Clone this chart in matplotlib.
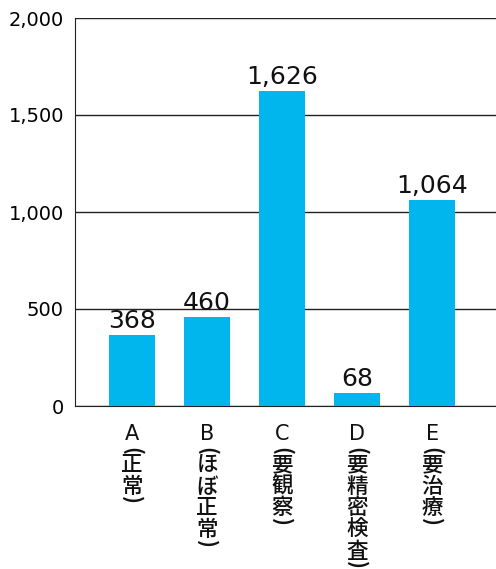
import matplotlib
matplotlib.use("Agg")
import matplotlib.pyplot as plt

plt.rcParams['font.family'] = ['DejaVu Sans', 'Noto Sans CJK JP']

letters = ['A', 'B', 'C', 'D', 'E']
names = ['正常', 'ほぼ正常', '要観察', '要精密検査', '要治療']
values = [368, 460, 1626, 68, 1064]
yticks = [0, 500, 1000, 1500, 2000]

PX = 0.72  # points per pixel at dpi 100

fig = plt.figure(figsize=(4.96, 5.69), dpi=100)
ax = fig.add_axes([75/496, 1 - 406/569, 421/496, 388/569])

x = list(range(len(values)))
ax.bar(x, values, width=0.61, color='#00b6ec', zorder=3)
for xi, v in zip(x, values):
    ax.annotate(f'{v:,}', (xi, v), xytext=(0, 7*PX), textcoords='offset points',
                ha='center', va='baseline', fontsize=18, color='#111111')

# vertical category labels, one glyph at a time (top to bottom)
cjk = ['Noto Sans CJK JP', 'DejaVu Sans']
step = 21.7
for xi, l, n in zip(x, letters, names):
    kw = dict(xycoords=('data', 'axes fraction'), textcoords='offset points',
              ha='center', va='center', color='#111111')
    ax.annotate(l, (xi, 0), xytext=(0, -28.5*PX), fontsize=15, **kw)
    ax.annotate('(', (xi, 0), xytext=(0, -44.5*PX), fontsize=15, rotation=-90,
                family=cjk, fontweight='bold', **kw)
    for i, ch in enumerate(n):
        ax.annotate(ch, (xi, 0), xytext=(0, -(59 + step*i)*PX), fontsize=15.5,
                    family=cjk, fontweight='medium', **kw)
    yp = 59 + step*(len(n) - 1) + 13.5
    ax.annotate(')', (xi, 0), xytext=(0, -yp*PX), fontsize=15, rotation=-90,
                family=cjk, fontweight='bold', **kw)

ax.set_xlim(-0.76, 4.85)
ax.set_ylim(0, 2000)
ax.set_yticks(yticks)
ax.set_yticklabels([f'{t:,}' for t in yticks], fontsize=14)
ax.yaxis.grid(True, color='#222222', linewidth=1, zorder=0)
ax.set_xticks([])
ax.tick_params(axis='y', length=0, pad=8)
for s in ['top', 'right']:
    ax.spines[s].set_visible(False)
ax.spines['left'].set_color('#222222')
ax.spines['bottom'].set_color('#222222')

fig.savefig('out.png', dpi=100)
